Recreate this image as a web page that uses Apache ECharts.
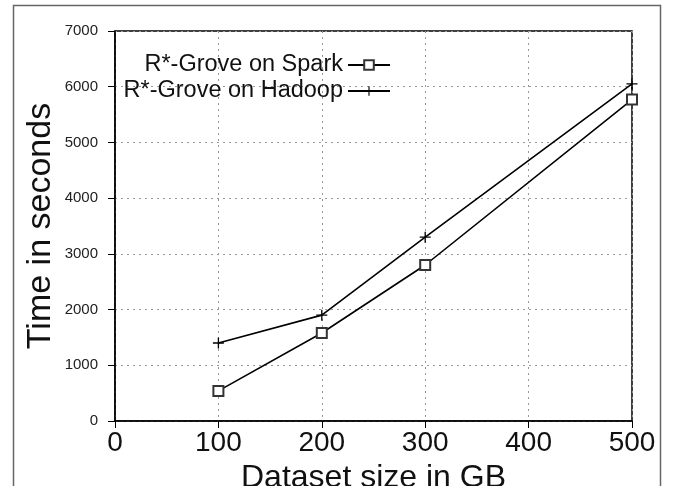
<!DOCTYPE html>
<html><head><meta charset="utf-8">
<script src="https://cdn.jsdelivr.net/npm/echarts@6/dist/echarts.min.js"></script>
<style>html,body{margin:0;padding:0;background:#fff}#c{width:675px;height:486px}</style>
</head><body><div id="c"></div>
<script>
const xValues = [100, 200, 300, 500];
const sparkValues = [540, 1580, 2800, 5770];
const hadoopValues = [1400, 1900, 3300, 6050];
const seriesNames = ['R*-Grove on Spark', 'R*-Grove on Hadoop'];
const xAxisTitle = 'Dataset size in GB';
const yAxisTitle = 'Time in seconds';

const FONT = 'Liberation Sans';
const plusPath = 'path://M0,4.4H10V5.6H0Z M4.4,0H5.6V10H4.4Z';
const chart = echarts.init(document.getElementById('c'));
const pair = (vals) => xValues.map((x, i) => [x, vals[i]]);
const legendText = { fontSize: 23.5, color: '#111', fontFamily: FONT };
chart.setOption({
  animation: false,
  backgroundColor: '#fff',
  textStyle: { fontFamily: FONT },
  grid: { left: 115, right: 43, top: 31, bottom: 65, show: true, borderColor: '#000', borderWidth: 1.5,
          containLabel: false, outerBoundsMode: 'none' },
  graphic: [{ type: 'rect', shape: { x: 13.5, y: 5.5, width: 647, height: 500 }, style: { fill: 'none', stroke: '#666', lineWidth: 1.5 }, silent: true }],
  legend: [
    { data: [seriesNames[0]], orient: 'vertical', align: 'right', right: 279, top: 48, itemWidth: 42, itemHeight: 12,
      textStyle: legendText, selectedMode: false },
    { data: [seriesNames[1]], orient: 'vertical', align: 'right', right: 279, top: 74, itemWidth: 42, itemHeight: 12,
      textStyle: legendText, selectedMode: false }
  ],
  xAxis: {
    type: 'value', min: 0, max: 500, interval: 100,
    name: xAxisTitle, nameLocation: 'middle', nameGap: 41, nameMoveOverlap: false,
    nameTextStyle: { fontSize: 32, color: '#111', fontFamily: FONT },
    axisLine: { show: true, lineStyle: { color: '#000', width: 1.5 } },
    axisTick: { show: true, inside: false, length: 7, lineStyle: { color: '#000' } },
    axisLabel: { fontSize: 28, color: '#111', margin: 8, fontFamily: FONT },
    splitLine: { show: true, lineStyle: { color: '#999', type: [2, 4], width: 1 } }
  },
  yAxis: {
    type: 'value', min: 0, max: 7000, interval: 1000,
    name: yAxisTitle, nameLocation: 'middle', nameGap: 57, nameRotate: 90, nameMoveOverlap: false,
    nameTextStyle: { fontSize: 34, color: '#111', fontFamily: FONT },
    axisLine: { show: true, lineStyle: { color: '#000', width: 1.5 } },
    axisTick: { show: true, inside: false, length: 7, lineStyle: { color: '#000' } },
    axisLabel: { fontSize: 15, color: '#222', margin: 17, fontFamily: FONT, formatter: (v) => String(v) },
    splitLine: { show: true, lineStyle: { color: '#999', type: [2, 4], width: 1 } }
  },
  series: [
    { name: seriesNames[0], type: 'line', data: pair(sparkValues), symbol: 'emptyRect', symbolSize: 10,
      lineStyle: { color: '#000', width: 1.6 }, itemStyle: { color: '#333', borderColor: '#333', borderWidth: 1.2 } },
    { name: seriesNames[1], type: 'line', data: pair(hadoopValues), symbol: plusPath, symbolSize: 11,
      lineStyle: { color: '#000', width: 1.6 }, itemStyle: { color: '#000' } }
  ]
});
</script></body></html>
